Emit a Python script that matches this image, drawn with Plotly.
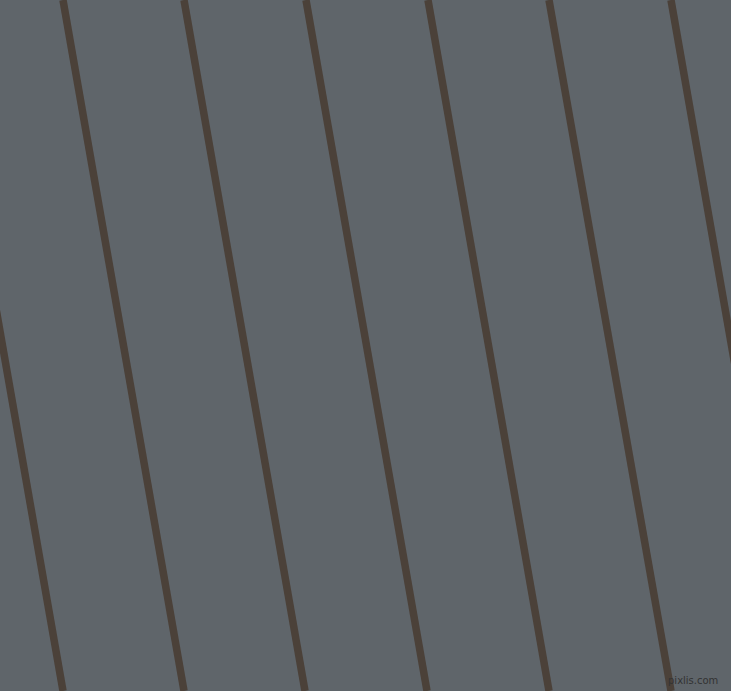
import plotly.graph_objects as go

# stripe positions (px) where each line meets the top and bottom edges
x_top = [-58, 63, 184, 306, 428, 549, 671]
x_bottom = [63, 184, 305, 427, 549, 671, 792]
y_top = 0
y_bottom = 691

background = "#5f656a"
stripe_color = "#4b4139"

fig = go.Figure()
for xt, xb in zip(x_top, x_bottom):
    fig.add_trace(go.Scatter(x=[xt, xb], y=[y_top, y_bottom], mode="lines",
                             line={"width": 7.5, "color": stripe_color},
                             hoverinfo="skip", showlegend=False))

fig.add_annotation(x=720, y=688, xref="x", yref="y", text="pixlis.com", showarrow=False,
                   xanchor="right", yanchor="bottom",
                   font={"family": "DejaVu Sans", "size": 10, "color": "#333333"})

fig.update_layout(width=731, height=691, margin={"l": 0, "r": 0, "t": 0, "b": 0},
                  paper_bgcolor=background, plot_bgcolor=background)
fig.update_xaxes(range=[0, 731], visible=False, showgrid=False, zeroline=False)
fig.update_yaxes(range=[691, 0], visible=False, showgrid=False, zeroline=False)

fig.write_html("out.html", config={"displayModeBar": False},
               post_script="document.body.style.margin='0';")
